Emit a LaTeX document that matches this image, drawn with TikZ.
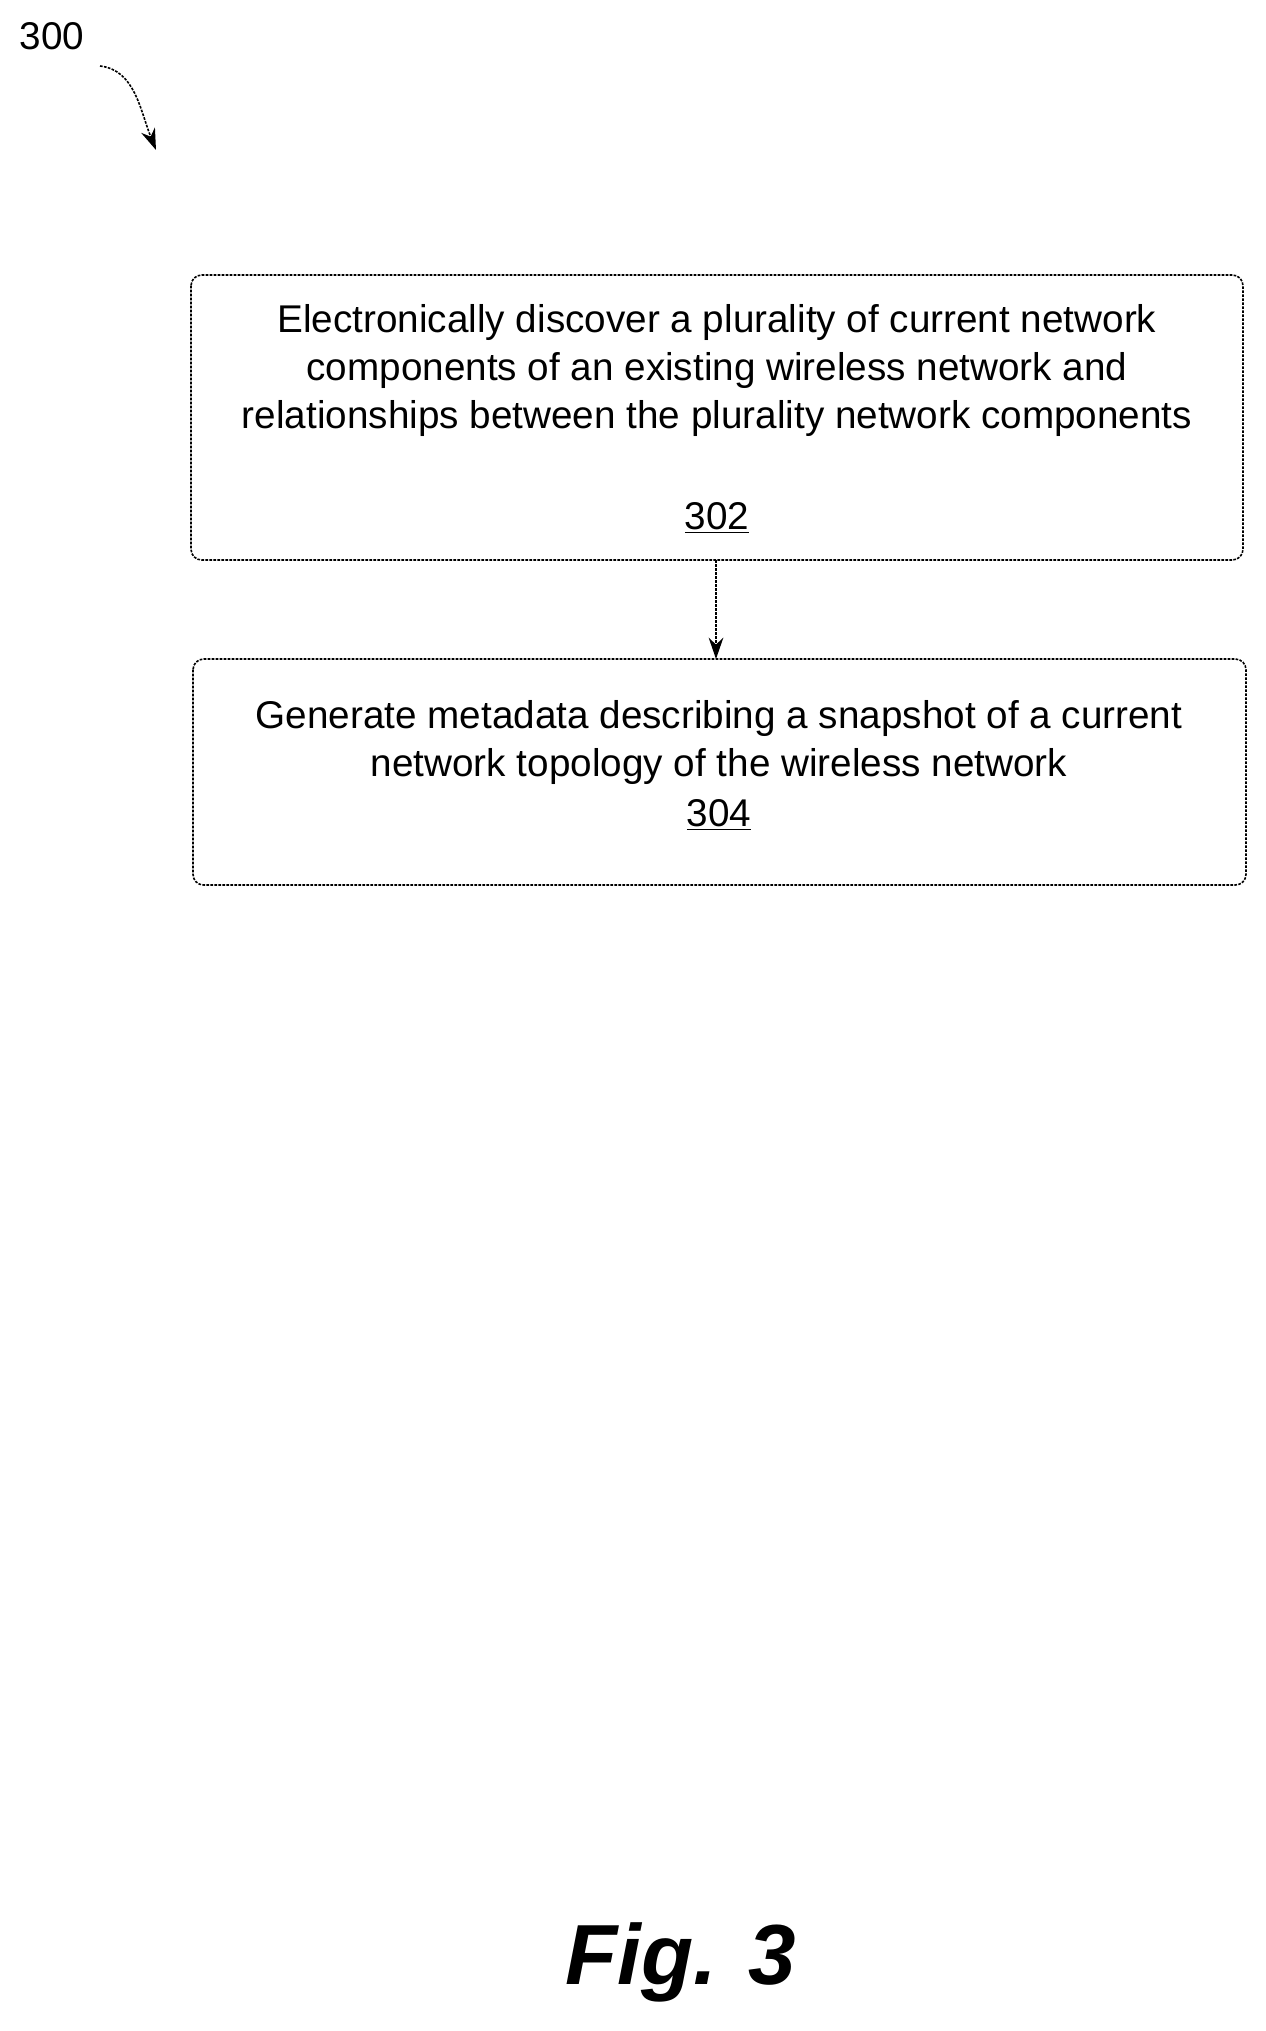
\documentclass[tikz,border=0pt]{standalone}
\usepackage{fontspec}
\setmainfont{Liberation Sans}
\usetikzlibrary{arrows.meta}
\begin{document}
\begin{tikzpicture}[x=0.75pt,y=0.75pt,yscale=-1,xscale=1]
\useasboundingbox (0,0) rectangle (1265,2031);
\tikzset{stepbox/.style={draw,dash pattern=on 2pt off 1pt,rounded corners=8pt,line width=1.2pt},
  flow/.style={dash pattern=on 2pt off 1pt,line width=1.2pt,-{Stealth[length=16pt,width=11pt]}}}
\fontsize{29}{36}\selectfont

%Shape: Rectangle 302
\draw [stepbox] (191,275) rectangle (1243,560) ;
%Shape: Rectangle 304
\draw [stepbox] (193,659) rectangle (1246,885) ;

% Text Node
\node (t302) at (717,370) [align=center] {Electronically discover a plurality of current network\\components of an existing wireless network and\\relationships between the plurality network components};
% Text Node
\node (n302) at (717,518) {\underline{302}};
% Text Node
\node (t304) at (719,742) [align=center] {Generate metadata describing a snapshot of a current\\network topology of the wireless network};
% Text Node
\node (n304) at (719,815) {\underline{304}};

%Straight Lines
\coordinate (a1) at (716,560);
\coordinate (a2) at (716,659);
\draw [flow] (a1) -- (a2) ;

% Text Node
\node (lbl) at (52,36) {300};
\coordinate (c1) at (100,66);
\coordinate (c2) at (156,150);
\draw [flow] (c1) .. controls (135,70) and (140,110) .. (c2) ;

% Text Node
\node (fig) at (681,1962) {\fontsize{64}{70}\selectfont\bfseries\itshape Fig. 3};
\end{tikzpicture}
\end{document}
